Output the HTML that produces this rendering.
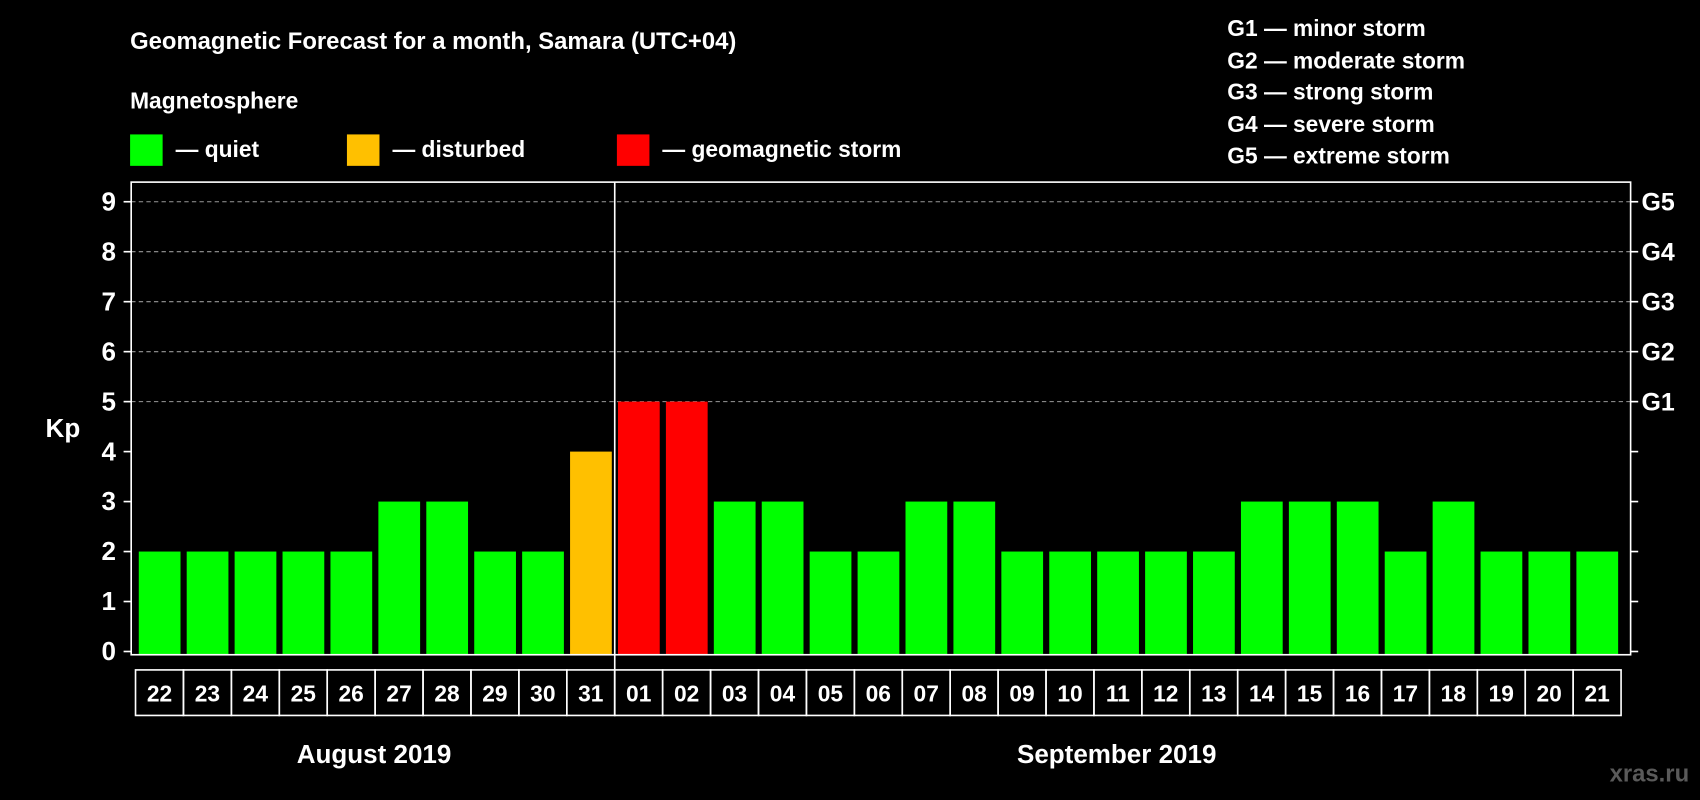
<!DOCTYPE html>
<html><head><meta charset="utf-8"><style>
html,body{margin:0;padding:0;background:#000;width:1700px;height:800px;overflow:hidden}
svg{display:block}
text{font-family:"Liberation Sans",Arial,sans-serif;font-weight:bold;fill:#fff}
</style></head><body>
<svg id="chart" width="1700" height="800" viewBox="0 0 1568 738" preserveAspectRatio="none" xmlns="http://www.w3.org/2000/svg">
<rect x="0" y="0" width="1568" height="738" fill="#000"/>
<text x="120" y="45" font-size="22">Geomagnetic Forecast for a month, Samara (UTC+04)</text>
<text x="120" y="100" font-size="21">Magnetosphere</text>
<g><rect x="120" y="124" width="30" height="29" fill="#00ff00"/><text x="162" y="145" font-size="21">— quiet</text></g>
<g><rect x="320" y="124" width="30" height="29" fill="#ffc000"/><text x="362" y="145" font-size="21">— disturbed</text></g>
<g><rect x="569" y="124" width="30" height="29" fill="#ff0000"/><text x="611" y="145" font-size="21">— geomagnetic storm</text></g>
<g font-size="21">
<text x="1132" y="33">G1 — minor storm</text>
<text x="1132" y="63">G2 — moderate storm</text>
<text x="1132" y="92">G3 — strong storm</text>
<text x="1132" y="122">G4 — severe storm</text>
<text x="1132" y="151">G5 — extreme storm</text>
</g>
<text x="58" y="403" font-size="24" text-anchor="middle">Kp</text>
<g id="grid"></g><g id="bars"></g><g id="axes"></g>
<text x="345" y="704" font-size="24" text-anchor="middle">August 2019</text>
<text x="1030" y="704" font-size="24" text-anchor="middle">September 2019</text>
<text x="1558" y="721" font-size="22" text-anchor="end" style="fill:#5a5a5a">xras.ru</text>
</svg>
<script>
const days=["22","23","24","25","26","27","28","29","30","31","01","02","03","04","05","06","07","08","09","10","11","12","13","14","15","16","17","18","19","20","21"];
const kp=[2,2,2,2,2,3,3,2,2,4,5,5,3,3,2,2,3,3,2,2,2,2,2,3,3,3,2,3,2,2,2];
const yTicks=[0,1,2,3,4,5,6,7,8,9];
const gLabels=["","","","","","G1","G2","G3","G4","G5"];
const NS="http://www.w3.org/2000/svg";
const y0=601,unit=46.1,x0=125,pitch=44.2;
function yS(v){return y0-v*unit;}
function xS(i){return x0+i*pitch;}
function mk(tag,attrs,parent){const e=document.createElementNS(NS,tag);for(const k in attrs)e.setAttribute(k,attrs[k]);parent.appendChild(e);return e;}
const grid=document.getElementById('grid'),bars=document.getElementById('bars'),axes=document.getElementById('axes');
yTicks.forEach((t,i)=>{
  const y=yS(t);
  if(t>=5){const l=mk('line',{x1:121,x2:1504,y1:y,y2:y,stroke:'#999','stroke-dasharray':'4,3','stroke-width':1},grid);
  
  }
  mk('line',{x1:114,x2:121,y1:y,y2:y,stroke:'#fff','stroke-width':1.5},axes);
  mk('line',{x1:1504,x2:1511,y1:y,y2:y,stroke:'#fff','stroke-width':1.5},axes);
  const tx=mk('text',{x:107,y:y+8,'font-size':24,'text-anchor':'end'},axes);tx.textContent=t;
  
  
  if(gLabels[i]){const g=mk('text',{x:1514,y:y+8,'font-size':23},axes);g.textContent=gLabels[i];
  
  }
});
kp.forEach((v,i)=>{
  const c=v>=5?'#ff0000':(v>=4?'#ffc000':'#00ff00');
  const r=mk('rect',{x:xS(i)+3,y:yS(v),width:38.5,height:y0+3-yS(v),fill:c},bars);
  
  
  mk('rect',{x:xS(i),y:618,width:pitch,height:42,fill:'none',stroke:'#fff','stroke-width':1.5},axes);
  const t=mk('text',{x:xS(i)+pitch/2,y:647,'font-size':21,'text-anchor':'middle'},axes);t.textContent=days[i];
  
  
});
const f=mk('rect',{x:121,y:168,width:1383,height:436,fill:'none',stroke:'#fff','stroke-width':1.5},axes);


const d=mk('line',{x1:xS(10),x2:xS(10),y1:168,y2:660,stroke:'#fff','stroke-width':1.5},axes);


</script>
</body></html>
